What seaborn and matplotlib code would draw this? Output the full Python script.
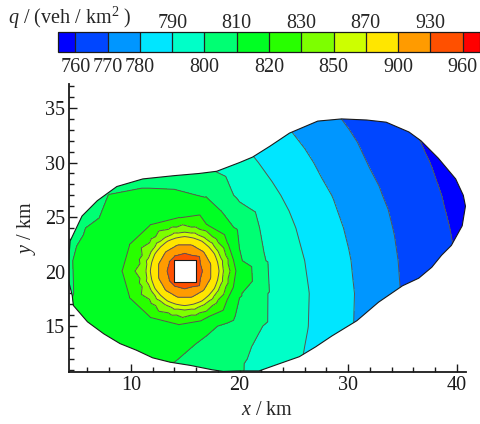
import numpy as np
import matplotlib
matplotlib.use("Agg")
import matplotlib.pyplot as plt
import matplotlib.tri as mtri
from matplotlib.path import Path
from matplotlib.patches import PathPatch
from matplotlib.colors import ListedColormap, BoundaryNorm
from matplotlib.ticker import MultipleLocator
import seaborn as sns

# contour levels and band colours (below 760, the 12 bands, above 960)
levels = [760, 770, 780, 790, 800, 810, 820, 830, 850, 870, 900, 930, 960]
top_labels = [790, 810, 830, 870, 930]
band_colors = ["#0000ff", "#0046ff", "#0096ff", "#00e6ff", "#00ffc8", "#00ff73", "#00ff23",
               "#28ff00", "#7dff00", "#cdff00", "#ffe600", "#ff9b00", "#ff5000", "#ff0000"]

# background stations on a 3 km grid, q in veh/km^2 (nan = covered by the peak rings)
nan = np.nan
grid_x = [2, 5, 8, 11, 14, 17, 20, 23, 26, 29, 32, 35, 38, 41, 44]
grid_y = [9, 12, 15, 18, 21, 24, 27, 30, 33, 36]
grid_q = [
    [801, 803, 804, 806, 801, 801, 800.8, 794, 787.4, 780.6, 773.8, 767.5, 762.1, 756.6, 751.2],
    [801, 805, 809.5, 812, 811, 803, 801, 796.8, 789.5, 782.6, 775.5, 768.9, 763.2, 757.6, 752.1],
    [804, 810.5, 813.5, 815, nan, 812.8, 804.2, 798.3, 790.8, 783.6, 776.4, 769.5, 763.8, 758.2, 752.6],
    [801, 810.9, 815.4, nan, nan, nan, 810.9, 798.4, 791.0, 783.8, 776.6, 769.6, 763.9, 758.3, 752.7],
    [801, 811.2, 815.7, nan, nan, nan, 811.2, 797.4, 790.0, 783.0, 775.9, 769.1, 763.5, 757.9, 752.3],
    [801, 808.5, 814.0, nan, nan, nan, 807.9, 795.1, 788.1, 781.3, 774.5, 768.1, 762.5, 757.0, 751.5],
    [801, 801, 810.3, 812.5, 812.0, 809.1, 798.0, 791.7, 785.3, 778.9, 772.2, 766.5, 761.1, 755.7, 750.3],
    [801, 801, 801, 801, 801, 798.4, 793.3, 787.6, 781.8, 775.2, 769.5, 764.4, 759.2, 754.0, 748.7],
    [799.8, 800.9, 800.8, 799.1, 796.3, 792.5, 788.0, 783.0, 777.6, 771.9, 766.8, 761.9, 757.1, 752.2, 746.8],
    [792.5, 793.4, 793.3, 791.9, 789.5, 786.3, 782.4, 777.9, 772.9, 768.1, 763.6, 759.0, 754.3, 749.4, 744.5],
]

# rings of stations around the peak (blanked cell in the middle)
peak_cy = 20.05
ring_q = [927, 903, 878, 856, 836, 826, 819.5]
ring_cx = [14.95, 14.95, 14.95, 14.95, 14.95, 14.85, 14.4]
ring_rx = [1.7, 2.4, 3.0, 3.45, 3.85, 4.35, 5.3]
ring_ry = [1.7, 2.4, 3.0, 3.45, 3.85, 4.3, 4.95]
hole_x = [14.0, 15.0, 16.0, 16.0, 16.0, 15.0, 14.0, 14.0]
hole_y = [19.05, 19.05, 19.05, 20.05, 21.05, 21.05, 21.05, 20.05]
hole_q = 955

# outline of the study area
edge_x = [4.2, 4.6, 4.7, 6.0, 7.5, 9.0, 10.5, 12.0, 13.6, 15.5, 17.5, 18.5, 20.0, 21.8, 23.5,
          25.5, 27.0, 28.5, 30.8, 32.8, 35.0, 36.5, 37.7, 38.6, 39.5, 40.5, 40.8, 40.6, 39.9,
          38.3, 36.7, 35.6, 33.5, 31.7, 29.4, 27.2, 24.6, 22.8, 21.2, 20.0, 17.9, 16.3, 14.0,
          11.1, 8.7, 6.9, 5.5, 4.4, 4.2]
edge_y = [19.4, 17.8, 16.9, 15.4, 14.3, 13.4, 12.8, 12.1, 11.7, 11.4, 11.0, 10.85, 10.9, 10.9, 11.5,
          12.2, 13.1, 14.1, 15.5, 17.2, 18.7, 19.4, 20.4, 21.5, 22.4, 24.2, 26.0, 27.0, 28.5,
          30.4, 32.0, 32.8, 33.7, 33.9, 34.0, 33.8, 32.7, 31.5, 30.5, 30.0, 29.2, 29.0, 28.8,
          28.5, 27.8, 26.5, 25.1, 22.8, 20.0]

# collect all stations
gx, gy = np.meshgrid(grid_x, grid_y)
gq = np.array(grid_q, dtype=float)
keep = ~np.isnan(gq)
px = list(gx[keep])
py = list(gy[keep])
pq = list(gq[keep])
for i, q in enumerate(ring_q):
    ang = np.deg2rad(np.arange(0, 360, 30) + 15 * (i % 2))
    px += list(ring_cx[i] + ring_rx[i] * np.cos(ang))
    py += list(peak_cy + ring_ry[i] * np.sin(ang))
    pq += [q] * len(ang)
px += hole_x
py += hole_y
pq += [hole_q] * len(hole_x)
tri = mtri.Triangulation(px, py)

sns.set_theme(style="ticks")
plt.rcParams["font.family"] = ["Liberation Serif", "DejaVu Serif"]
plt.rcParams["mathtext.fontset"] = "custom"
plt.rcParams["mathtext.rm"] = "Liberation Serif"
plt.rcParams["mathtext.it"] = "Liberation Serif:italic"
fs = 14.5

fig = plt.figure(figsize=(4.81, 4.24), dpi=100)
ax = fig.add_axes([69 / 481, 52 / 424, 397 / 481, 288 / 424])

cmap = ListedColormap(band_colors[1:-1])
cmap.set_under(band_colors[0])
cmap.set_over(band_colors[-1])
norm = BoundaryNorm(levels, cmap.N)

cf = ax.tricontourf(tri, pq, levels=levels, cmap=cmap, norm=norm, extend="both")
cl = ax.tricontour(tri, pq, levels=levels, colors="#555555", linewidths=0.7)

# clip to the study area, leaving the blanked cell open
verts = list(zip(edge_x, edge_y)) + [(edge_x[0], edge_y[0])]
codes = [Path.MOVETO] + [Path.LINETO] * (len(edge_x) - 1) + [Path.CLOSEPOLY]
hx, hy = hole_x[::-1], hole_y[::-1]
verts += list(zip(hx, hy)) + [(hx[0], hy[0])]
codes += [Path.MOVETO] + [Path.LINETO] * (len(hx) - 1) + [Path.CLOSEPOLY]
clip = PathPatch(Path(verts, codes), transform=ax.transData, facecolor="none", edgecolor="none")
cf.set_clip_path(clip)
cl.set_clip_path(clip)

ax.plot(edge_x + [edge_x[0]], edge_y + [edge_y[0]], color="k", lw=0.8)
ax.plot(hole_x + [hole_x[0]], hole_y + [hole_y[0]], color="k", lw=0.8)

ax.set_xlim(4.3, 40.85)
ax.set_ylim(10.8, 37.2)
sns.despine(ax=ax)
for s in ["left", "bottom"]:
    ax.spines[s].set_linewidth(1.3)
    ax.spines[s].set_color("k")
ax.set_xticks([10, 20, 30, 40])
ax.set_yticks([15, 20, 25, 30, 35])
ax.xaxis.set_minor_locator(MultipleLocator(2))
ax.yaxis.set_minor_locator(MultipleLocator(1))
ax.tick_params(which="both", direction="in", colors="k", labelsize=fs, width=1)
ax.tick_params(which="major", length=6)
ax.tick_params(which="minor", length=3.5)
ax.tick_params(axis="x", pad=3)
ax.tick_params(axis="y", pad=3)
ax.set_xlabel("$x$ / km", fontsize=fs, labelpad=4)
ax.set_ylabel("$y$ / km", fontsize=fs, labelpad=5)

# colour bar along the top
cax = fig.add_axes([58 / 481, 1 - 52 / 424, 422 / 481, 20 / 424])
cb = fig.colorbar(cf, cax=cax, orientation="horizontal", extendrect=True,
                  extendfrac=0.045, drawedges=True)
cb.outline.set_linewidth(0.9)
cb.outline.set_edgecolor("k")
cb.dividers.set_color("#222222")
cb.dividers.set_linewidth(0.9)
cb.set_ticks(levels)
cax.tick_params(length=0, labelbottom=False, labeltop=False)
for lv in levels:
    y = 1.22 if lv in top_labels else -1.0
    cax.text(lv, y, str(lv), transform=cax.get_xaxis_transform(), ha="center",
             va="baseline", fontsize=fs)
fig.text(8 / 481, 1 - 24 / 424, "$q$ / (veh / km$^2$ )", fontsize=fs, ha="left", va="baseline")

fig.savefig("out.png", dpi=100)
